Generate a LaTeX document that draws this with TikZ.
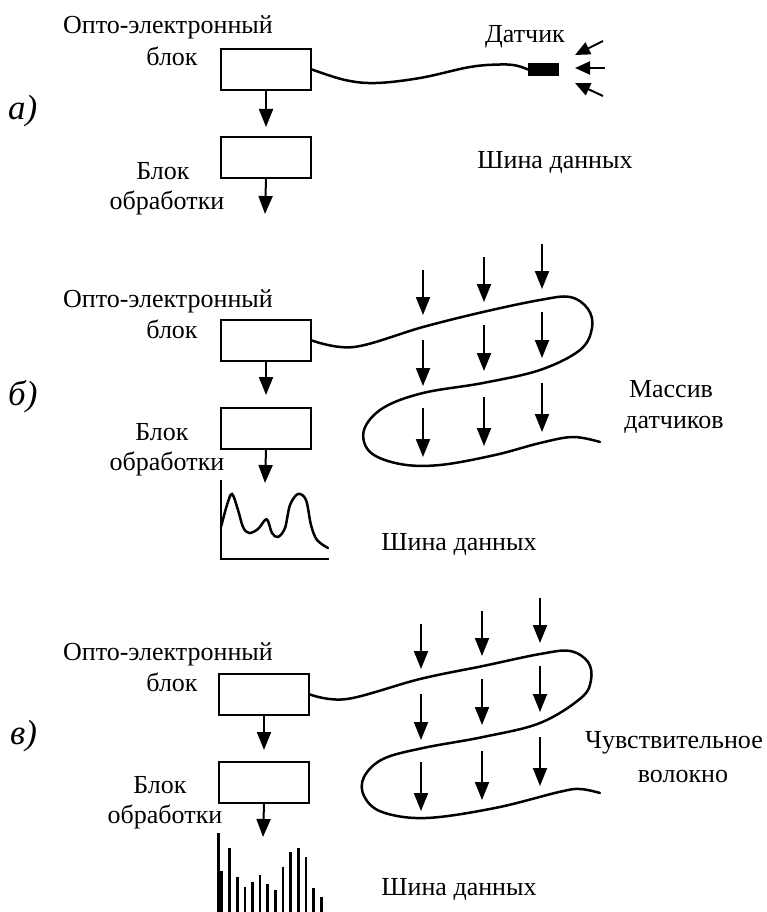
\documentclass[tikz,border=0pt]{standalone}
\usepackage{fontspec}
\setmainfont{Liberation Serif}
\usetikzlibrary{arrows.meta}
\begin{document}
\begin{tikzpicture}[x=1pt,y=-1pt,
  lbl/.style={font=\fontsize{26}{31}\selectfont, inner sep=0pt, anchor=base},
  panel/.style={font=\fontsize{35}{40}\selectfont\itshape, inner sep=0pt, anchor=base west},
  blk/.style={draw, line width=2pt, minimum width=90pt, minimum height=41pt, inner sep=0pt, anchor=north west},
  flow/.style={line width=2pt, -{Triangle[length=18pt,width=14pt]}},
  ray/.style={line width=2pt, -{Triangle[length=15pt,width=13pt]}},
  fiber/.style={line width=2.5pt, line cap=round},
  axis/.style={line width=2.5pt},
  bar/.style={line width=2.6pt},
  sensor/.style={fill, minimum width=31pt, minimum height=13pt, inner sep=0pt, anchor=west}
]
\useasboundingbox (0,0) rectangle (767,912);

% ---------------- panel a ----------------
\node[panel] (pa) at (8,120) {а)};
\node[lbl] (oea1) at (168,34) {Опто-электронный};
\node[lbl] (oea2) at (172,66) {блок};
\node[blk] (b1a) at (220,48) {};
\node[blk] (b2a) at (220,136) {};
\node[lbl] (pra1) at (163,179) {Блок};
\node[lbl] (pra2) at (167,209) {обработки};
\coordinate (ea) at (265,214);
\draw[flow, shorten >=9pt] (b1a.south) -- (b2a.north);
\draw[flow] (b2a.south) -- (ea);
\node[sensor] (sens) at (528,69.5) {};
\draw[fiber] plot[smooth, tension=0.6] coordinates {(b1a.east) (345,80) (376,83) (420,78) (470,67) (500,64.5) (516,65.5) (sens.west)};
\coordinate (r1s) at (603,41);  \coordinate (r1e) at (575,55);
\coordinate (r2s) at (605,68);  \coordinate (r2e) at (575,68);
\coordinate (r3s) at (603,96);  \coordinate (r3e) at (575,83);
\draw[ray] (r1s) -- (r1e);
\draw[ray] (r2s) -- (r2e);
\draw[ray] (r3s) -- (r3e);
\node[lbl] (dat) at (525,43) {Датчик};
\node[lbl] (busa) at (555,169) {Шина данных};

% ---------------- panel b ----------------
\node[panel] (pb) at (8,405) {б)};
\node[lbl] (oeb1) at (168,307) {Опто-электронный};
\node[lbl] (oeb2) at (172,338) {блок};
\node[blk] (b1b) at (220,319) {};
\node[blk] (b2b) at (220,407) {};
\node[lbl] (prb1) at (162,440) {Блок};
\node[lbl] (prb2) at (167,470) {обработки};
\coordinate (eb) at (265,483);
\draw[flow, shorten >=12pt] (b1b.south) -- (b2b.north);
\draw[flow] (b2b.south) -- (eb);
\draw[fiber] plot[smooth, tension=0.6] coordinates {(b1b.east) (354,347) (423,327) (483,312) (540,300) (570,297) (588,309) (592,328) (580,350) (540,370) (483,383) (423,393) (383,408) (364,430) (370,452) (400,464) (440,465) (495,455) (540,443) (573,437) (600,442)};
\foreach \x/\ya/\yb/\yc [count=\i] in {423/270/340/408, 484/257/325/397, 542/244/312/383} {
  \coordinate (bs1\i) at (\x,\ya);  \coordinate (be1\i) at (\x,\ya+45);
  \coordinate (bs2\i) at (\x,\yb);  \coordinate (be2\i) at (\x,\yb+46);
  \coordinate (bs3\i) at (\x,\yc);  \coordinate (be3\i) at (\x,\yc+49);
  \draw[flow] (bs1\i) -- (be1\i);
  \draw[flow] (bs2\i) -- (be2\i);
  \draw[flow] (bs3\i) -- (be3\i);
}
\coordinate (gtop) at (221,480);
\coordinate (gorg) at (221,559);
\coordinate (gend) at (329,559);
\draw[axis] (gtop) -- (gorg) -- (gend);
\draw[fiber] plot[smooth, tension=0.55] coordinates {(221,527) (227,505) (232,494) (238,510) (243,527) (249,533) (258,529) (265,520) (268,521) (272,533) (278,537) (285,528) (290,505) (298,494) (306,500) (311,525) (317,540) (328,548)};
\node[lbl] (busb) at (459,550) {Шина данных};
\node[lbl] (mas1) at (671,397) {Массив};
\node[lbl] (mas2) at (674,428) {датчиков};

% ---------------- panel c ----------------
\node[panel] (pc) at (10,744) {в)};
\node[lbl] (oec1) at (168,660) {Опто-электронный};
\node[lbl] (oec2) at (172,691) {блок};
\node[blk] (b1c) at (218,673) {};
\node[blk] (b2c) at (218,761) {};
\node[lbl] (prc1) at (160,793) {Блок};
\node[lbl] (prc2) at (165,823) {обработки};
\coordinate (ec) at (263,837);
\draw[flow, shorten >=11pt] (b1c.south) -- (b2c.north);
\draw[flow] (b2c.south) -- (ec);
\draw[fiber] plot[smooth, tension=0.6] coordinates {(b1c.east) (347,699) (420,679) (483,666) (540,654) (570,651) (588,662) (591,680) (581,698) (540,723) (483,737) (423,748) (383,759) (364,777) (364,796) (382,812) (426,818) (495,808) (559,792) (580,789) (600,793)};
\foreach \x/\ya/\yb/\yc [count=\i] in {421/624/694/762, 482/611/679/751, 540/598/666/737} {
  \coordinate (cs1\i) at (\x,\ya);  \coordinate (ce1\i) at (\x,\ya+45);
  \coordinate (cs2\i) at (\x,\yb);  \coordinate (ce2\i) at (\x,\yb+46);
  \coordinate (cs3\i) at (\x,\yc);  \coordinate (ce3\i) at (\x,\yc+49);
  \draw[flow] (cs1\i) -- (ce1\i);
  \draw[flow] (cs2\i) -- (ce2\i);
  \draw[flow] (cs3\i) -- (ce3\i);
}
\foreach \x/\t [count=\i] in {218.3/833, 221.7/871, 229.3/848, 237.3/877, 245/887, 252.3/882, 260/875, 267.7/884, 275.3/890, 283/867, 290.7/852, 298.3/848, 306/857, 313.7/888, 321.3/897} {
  \coordinate (bt\i) at (\x,\t);
  \coordinate (bb\i) at (\x,912);
  \draw[bar] (bt\i) -- (bb\i);
}
\node[lbl] (busc) at (459,895) {Шина данных};
\node[lbl] (sf1) at (674,748) {Чувствительное};
\node[lbl] (sf2) at (683,782) {волокно};
\end{tikzpicture}
\end{document}
